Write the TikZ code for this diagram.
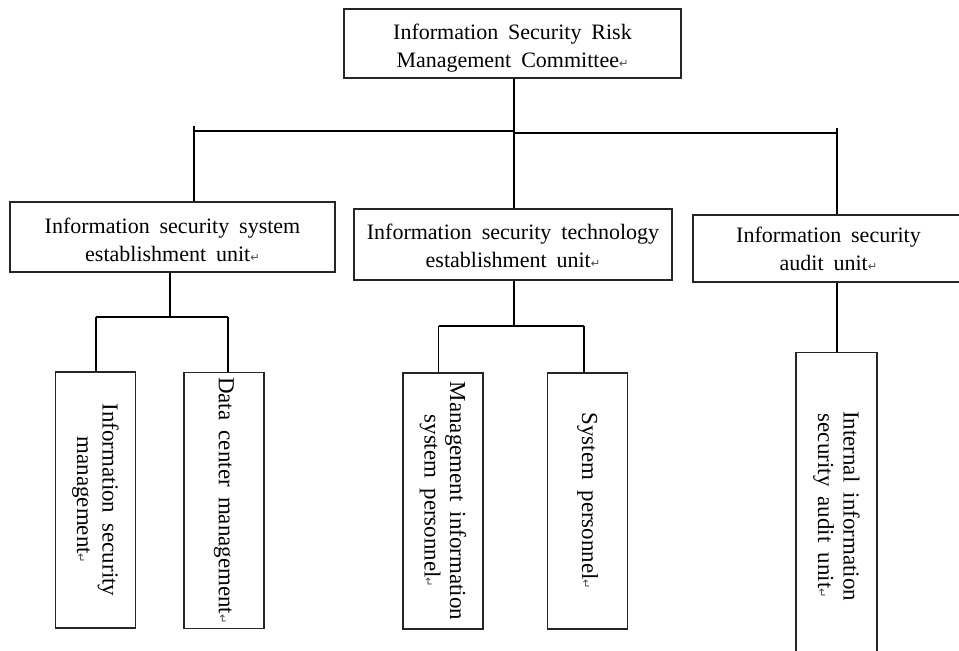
\documentclass[tikz,border=0pt]{standalone}
\usepackage{fontspec}
\setmainfont{Liberation Serif}
\newfontfamily\markfont{DejaVu Sans}
\newcommand\pmark{{\markfont\fontsize{8.5}{8.5}\selectfont\textcolor{black!70}{↵}}}
\newcommand\widespaces{\spaceskip=0.45em plus 0.1em minus 0.05em\relax}
\begin{document}
\begin{tikzpicture}[x=0.75pt, y=-0.75pt,
  font=\fontsize{16.5}{21}\selectfont,
  unitbox/.style={draw=black!85, line width=0.9pt, inner sep=0pt},
  unittext/.style={inner sep=0pt, align=center,
    font=\fontsize{16.5}{21}\selectfont\widespaces},
  vbox/.style={unitbox, align=center, rotate=-90,
    font=\fontsize{17.2}{19}\selectfont\widespaces},
  link/.style={line width=1.05pt},
  bar/.style={line width=1.5pt}]
\clip (0,0) rectangle (959,650);

% committee and the three units
\node[unitbox, minimum width=252.75pt, minimum height=51.75pt] (top) at (512.5,43.5) {};
\node[unittext] (topT) at ([yshift=-3.75pt]top.center)
  {Information Security Risk\\Management Committee\pmark};
\node[unitbox, minimum width=243.75pt, minimum height=52.5pt] (sys) at (172.5,237) {};
\node[unittext] (sysT) at ([yshift=-2.25pt]sys.center)
  {Information security system\\establishment unit\pmark};
\node[unitbox, minimum width=238.5pt, minimum height=53.25pt] (tech) at (513,244.5) {};
\node[unittext] (techT) at ([yshift=-0.75pt]tech.center)
  {Information security technology\\establishment unit\pmark};
\node[unitbox, minimum width=203.25pt, minimum height=50.25pt] (aud) at (828.5,248.5) {};
\node[unittext] (audT) at (aud.center)
  {Information security\\audit unit\pmark};

% staff boxes, text running downwards
\node[vbox, minimum width=192pt, minimum height=60pt] (boxA) at (95.5,500)
  {Information security\\management\pmark};
\node[vbox, minimum width=192pt, minimum height=60pt] (boxB) at (224,500.5)
  {Data center management\pmark};
\node[vbox, minimum width=192pt, minimum height=60pt] (boxC) at (443,501)
  {Management information\\system personnel\pmark};
\node[vbox, minimum width=192pt, minimum height=60pt] (boxD) at (587.5,501)
  {System personnel\pmark};
\node[vbox, minimum width=230pt, minimum height=60.75pt] (boxE) at (836.5,506)
  {Internal information\\security audit unit\pmark};

% top level branching
\coordinate (hubL) at (194,131);
\coordinate (hubM) at (514,131);
\coordinate (hubM2) at (514,133);
\coordinate (hubR) at (837,133);
\coordinate (tickL) at (194,126);
\coordinate (tickR) at (837,128);
\draw[link] (top.south -| hubM) -- (hubM);
\draw[bar] (hubL) -- (hubM);
\draw[bar] (hubM2) -- (hubR);
\draw[link] (tickL) -- (sys.north -| tickL);
\draw[link] (hubM) -- (tech.north -| hubM);
\draw[link] (tickR) -- (aud.north -| tickR);

% system establishment unit
\coordinate (sysJ) at (170,317);
\coordinate (sA) at (96,317);
\coordinate (sB) at (228,317);
\draw[link] (sys.south -| sysJ) -- (sysJ);
\draw[bar] (sA) -- (sB);
\draw[link] (sA) -- (sA |- boxA.west);
\draw[link] (sB) -- (sB |- boxB.west);

% technology establishment unit
\coordinate (techJ) at (514,326);
\coordinate (tC) at (438.5,326);
\coordinate (tD) at (584,326);
\draw[link] (tech.south -| techJ) -- (techJ);
\draw[bar] (tC) -- (tD);
\draw[link] (tC) -- (tC |- boxC.west);
\draw[link] (tD) -- (tD |- boxD.west);

% audit unit
\draw[link] (aud.south -| hubR) -- (hubR |- boxE.west);
\end{tikzpicture}
\end{document}
